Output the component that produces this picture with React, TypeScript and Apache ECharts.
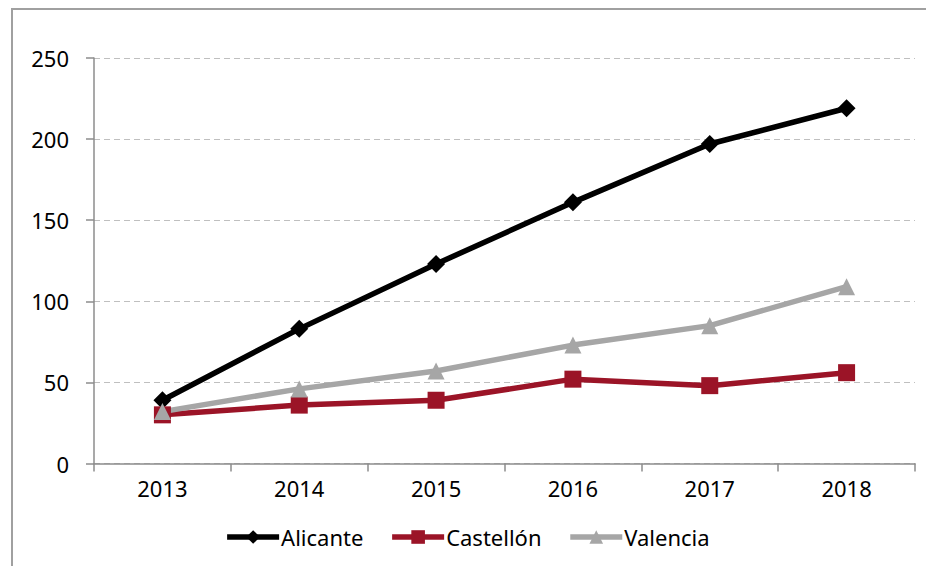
import React, { useEffect, useRef } from "react";
import * as echarts from "echarts";

const years = ["2013", "2014", "2015", "2016", "2017", "2018"];
const alicante = [39, 83, 123, 161, 197, 219];
const castellon = [30, 36, 39, 52, 48, 56];
const valencia = [32, 46, 57, 73, 85, 109];
const yTicks = { min: 0, max: 250, interval: 50 };

export default function App() {
  const ref = useRef<HTMLDivElement>(null);
  useEffect(() => {
    const chart = echarts.init(ref.current!, undefined, { renderer: "svg" });
    const font = "'Noto Sans', 'Open Sans', sans-serif";
    const mk = (name: string, data: number[], color: string, symbol: string, size: number) => ({
      name,
      type: "line",
      data,
      symbol,
      symbolSize: size,
      showAllSymbol: true,
      lineStyle: { color, width: 5.5 },
      itemStyle: { color },
      z: 3,
    });
    chart.setOption({
      animation: false,
      textStyle: { fontFamily: font },
      graphic: [
        {
          type: "rect",
          shape: { x: 12, y: 9, width: 960, height: 600 },
          style: { fill: "none", stroke: "#A0A0A0", lineWidth: 2 },
          silent: true,
        },
      ],
      grid: { left: 94, right: 19, top: 58, bottom: 102.5, containLabel: false },
      xAxis: {
        type: "category",
        data: years,
        boundaryGap: true,
        axisLine: { lineStyle: { color: "#8C8C8C", width: 1.5 } },
        axisTick: { show: true, alignWithLabel: false, length: 8, lineStyle: { color: "#8C8C8C", width: 1.5 } },
        axisLabel: { color: "#000", fontSize: 22, fontFamily: font, margin: 13 },
      },
      yAxis: {
        type: "value",
        min: yTicks.min,
        max: yTicks.max,
        interval: yTicks.interval,
        axisLine: { show: true, lineStyle: { color: "#8C8C8C", width: 1.5 } },
        axisTick: { show: true, length: 8, lineStyle: { color: "#8C8C8C", width: 1.5 } },
        axisLabel: { color: "#000", fontSize: 22, fontFamily: font, margin: 25 },
        splitLine: { show: true, lineStyle: { color: "#BFBFBF", type: [6, 4], width: 1.2 } },
      },
      legend: {
        bottom: 13,
        left: "center",
        itemWidth: 52,
        itemHeight: 17,
        itemGap: 26,
        lineStyle: { width: 5.5 },
        textStyle: { color: "#000", fontSize: 22, fontFamily: font, padding: [0, 0, 0, -3] },
        data: ["Alicante", "Castellón", "Valencia"],
      },
      series: [
        mk("Alicante", alicante, "#000000", "diamond", 18),
        mk("Castellón", castellon, "#9B1427", "rect", 17),
        mk("Valencia", valencia, "#A6A6A6", "triangle", 17),
      ],
    });
    return () => chart.dispose();
  }, []);
  return <div ref={ref} style={{ width: 934, height: 566, margin: "-8px 0 0 -8px" }} />;
}
